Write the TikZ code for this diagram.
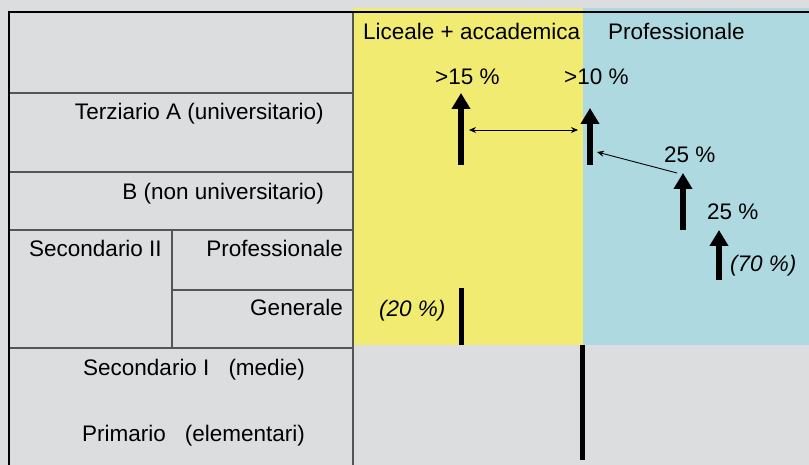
\documentclass[tikz,border=0pt]{standalone}
\usepackage{fontspec}
\setmainfont{Liberation Sans}
\usetikzlibrary{arrows.meta}
\definecolor{bggrey}{RGB}{220,221,223}
\definecolor{liceo}{RGB}{242,235,114}
\definecolor{profcol}{RGB}{174,217,224}
\definecolor{rulecol}{RGB}{85,85,85}
\begin{document}
\begin{tikzpicture}[x=1pt,y=-1pt,
  lbl/.style={font=\fontsize{22.5}{27}\selectfont, inner sep=0pt},
  bigarrow/.style={line width=6pt, -{Triangle[width=18pt,length=16pt]}},
  barline/.style={line width=5pt},
  thinarrow/.style={line width=0.9pt, -{Stealth[length=7pt,width=6pt]}},
  thindouble/.style={line width=0.9pt, {Stealth[length=7pt,width=6pt]}-{Stealth[length=7pt,width=6pt]}},
  tablerule/.style={draw=rulecol, line width=1.2pt},
  framerule/.style={draw=black, line width=2.2pt}]
\fill[bggrey] (0,0) rectangle (809,465);
\useasboundingbox (0,0) rectangle (809,465);
% coloured columns
\fill[liceo] (353,8) rectangle (583,345);
\fill[profcol] (583,8) rectangle (809,345);
% left table rules
\draw[tablerule] (9,93) -- (353,93);
\draw[tablerule] (9,172) -- (353,172);
\draw[tablerule] (9,230) -- (353,230);
\draw[tablerule] (9,348) -- (353,348);
\draw[tablerule] (172,290) -- (353,290);
\draw[tablerule] (172,230) -- (172,348);
\draw[tablerule] (353,12) -- (353,465);
% frame
\draw[framerule] (9,12) -- (809,12);
\draw[framerule] (9,11) -- (9,465);
% left texts
\node[lbl, anchor=base east] (terA) at (324,120) {Terziario A (universitario)};
\node[lbl, anchor=base east] (terB) at (324,199.5) {B (non universitario)};
\node[lbl, anchor=base west] (sec2) at (29,256.5) {Secondario II};
\node[lbl, anchor=base east] (sprof) at (343,256.5) {Professionale};
\node[lbl, anchor=base east] (sgen) at (343,316) {Generale};
\node[lbl, anchor=base west] (sec1) at (83,375.5) {Secondario I\hspace{19pt}(medie)};
\node[lbl, anchor=base west] (prim) at (82,441.5) {Primario\hspace{19pt}(elementari)};
% column headings
\node[lbl, anchor=base west] (hlic) at (363,39.3) {Liceale + accademica};
\node[lbl, anchor=base west] (hprof) at (608,39.3) {Professionale};
% percentages
\node[lbl, anchor=base west] (p15) at (435,85) {>15 \%};
\node[lbl, anchor=base west] (p10) at (564,85) {>10 \%};
\node[lbl, anchor=base west] (p25a) at (664,163) {25 \%};
\node[lbl, anchor=base west] (p25b) at (707,220) {25 \%};
\node[lbl, anchor=base west] (p70) at (730,271.5) {\itshape (70 \%)};
\node[lbl, anchor=base west] (p20) at (379,316.5) {\itshape (20 \%)};
% arrow end points
\coordinate (a1s) at (461,165); \coordinate (a1e) at (461,93);
\coordinate (a2s) at (590,165); \coordinate (a2e) at (590,108);
\coordinate (a3s) at (683,230); \coordinate (a3e) at (683,173);
\coordinate (a4s) at (719,280); \coordinate (a4e) at (719,230);
\coordinate (b1s) at (461,288); \coordinate (b1e) at (461,345);
\coordinate (b2s) at (582,345); \coordinate (b2e) at (582,460);
\coordinate (h1) at (469,130); \coordinate (h2) at (578,130);
\coordinate (d1) at (677,173); \coordinate (d2) at (597,152);
% arrows
\draw[bigarrow] (a1s) -- (a1e);
\draw[bigarrow] (a2s) -- (a2e);
\draw[bigarrow] (a3s) -- (a3e);
\draw[bigarrow] (a4s) -- (a4e);
\draw[barline] (b1s) -- (b1e);
\draw[barline] (b2s) -- (b2e);
\draw[thindouble] (h1) -- (h2);
\draw[thinarrow] (d1) -- (d2);
\end{tikzpicture}
\end{document}
